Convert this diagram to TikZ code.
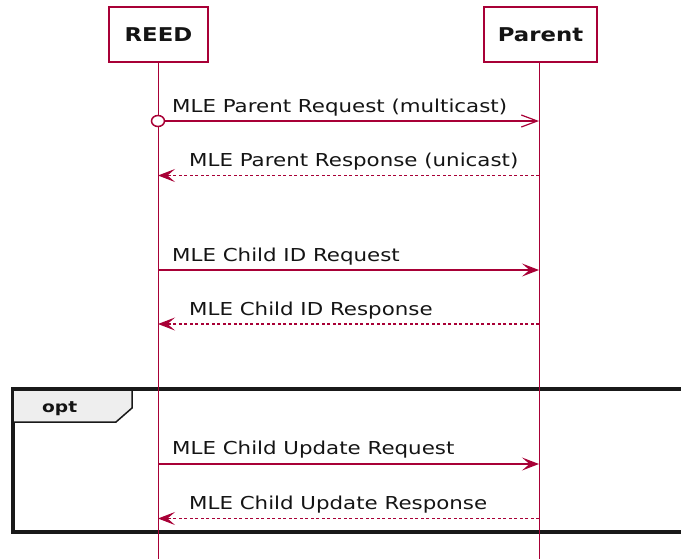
\documentclass[tikz,border=0pt]{standalone}
\usepackage{fontspec}
\setmainfont{DejaVu Sans}[FakeStretch=1.2]
\usetikzlibrary{arrows.meta,shapes.geometric}
\definecolor{pucrimson}{HTML}{A80036}
\definecolor{tabgray}{HTML}{EEEEEE}
\definecolor{txtgray}{HTML}{141414}
\tikzset{
  pbox/.style={draw=pucrimson, line width=1.3pt, fill=white, inner sep=0pt,
    text=txtgray, font=\fontsize{19}{22}\selectfont\bfseries},
  lifeline/.style={draw=pucrimson, line width=1pt},
  msgsync/.style={draw=pucrimson, line width=1.2pt,
    -{Stealth[length=17pt,width=13pt,inset=7.5pt]}},
  msgopen/.style={draw=pucrimson, line width=1.2pt,
    -{Straight Barb[length=16pt,width=12pt,line width=1.2pt]}},
  msgreply/.style={draw=pucrimson, line width=1.2pt, dash pattern=on 3pt off 2.5pt,
    -{Stealth[length=17pt,width=13pt,inset=7.5pt]}},
  msglabel/.style={anchor=base west, inner sep=0pt, text=txtgray,
    font=\fontsize{17.8}{20}\selectfont},
  startcircle/.style={ellipse, draw=pucrimson, line width=1.5pt, fill=white,
    minimum width=13pt, minimum height=11pt, inner sep=0pt},
  optframe/.style={draw=black!90, line width=3.5pt},
  opttab/.style={draw=black!90, line width=1.5pt, fill=tabgray},
  optlabel/.style={anchor=base west, inner sep=0pt, text=txtgray,
    font=\fontsize{15.5}{18}\selectfont\bfseries},
}
\begin{document}
\begin{tikzpicture}[x=1pt,y=-1pt]
\useasboundingbox (0,0) rectangle (681,558);
\clip (0,0) rectangle (681,558);
% opt group
\draw[optframe] (13,389) rectangle (700,532);
\draw[opttab] (13,389) -- (132,389) -- (132,408) -- (116,422) -- (13,422) -- cycle;
\draw[optframe] (13,389) -- (700,389);
\node[optlabel] (optl) at (42,412) {opt};
% participants
\node[pbox, minimum width=99pt, minimum height=55pt] (reed) at (158.5,34.5) {REED};
\node[pbox, minimum width=113pt, minimum height=55pt] (parent) at (540.5,34.5) {Parent};
% lifelines
\coordinate (reedtop) at (158,62);
\coordinate (reedend) at (158,560);
\coordinate (partop) at (539,62);
\coordinate (parend) at (539,560);
\draw[lifeline] (reedtop) -- (reedend);
\draw[lifeline] (partop) -- (parend);
% message coordinates
\coordinate (r1) at (158,121); \coordinate (p1) at (539,121);
\coordinate (r2) at (158,175.5); \coordinate (p2) at (539,175.5);
\coordinate (r3) at (158,270); \coordinate (p3) at (539,270);
\coordinate (r4) at (158,324); \coordinate (p4) at (539,324);
\coordinate (r5) at (158,464); \coordinate (p5) at (539,464);
\coordinate (r6) at (158,518.5); \coordinate (p6) at (539,518.5);
% messages
\node[startcircle] (c1) at (r1) {};
\draw[msgopen] (c1.east) -- (p1);
\node[msglabel] (l1) at (172,112) {MLE Parent Request (multicast)};
\draw[msgreply] (p2) -- (r2);
\node[msglabel] (l2) at (189,166.5) {MLE Parent Response (unicast)};
\draw[msgsync] (r3) -- (p3);
\node[msglabel] (l3) at (172,261) {MLE Child ID Request};
\draw[msgreply] (p4) -- (r4);
\node[msglabel] (l4) at (189,315) {MLE Child ID Response};
\draw[msgsync] (r5) -- (p5);
\node[msglabel] (l5) at (172,454.5) {MLE Child Update Request};
\draw[msgreply] (p6) -- (r6);
\node[msglabel] (l6) at (189,509) {MLE Child Update Response};
\end{tikzpicture}
\end{document}
